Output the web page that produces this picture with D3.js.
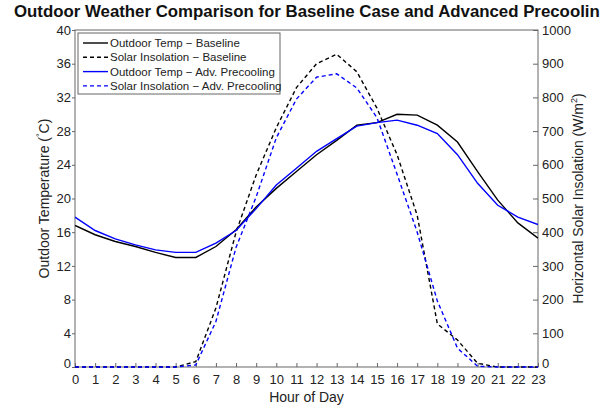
<!DOCTYPE html>
<html><head><meta charset="utf-8">
<script src="https://cdn.jsdelivr.net/npm/d3@7/dist/d3.min.js"></script>
<style>
body{margin:0;background:#fff}
svg{display:block;font-family:"Liberation Sans",Arial,Helvetica,sans-serif}
</style>
</head><body>
<svg id="chart" width="601" height="409"></svg>
<script>
// ---- data ----
const hours = [0,1,2,3,4,5,6,7,8,9,10,11,12,13,14,15,16,17,18,19,20,21,22,23];
const tempBaseline = [16.8,15.7,14.9,14.3,13.6,13.0,13.0,14.3,16.3,19.0,21.2,23.2,25.2,26.9,28.7,29.0,30.0,29.9,28.7,26.7,23.2,19.8,17.1,15.3];
const tempAdvPrecool = [17.8,16.2,15.2,14.5,13.9,13.6,13.6,14.7,16.2,18.8,21.6,23.6,25.6,27.1,28.6,29.0,29.3,28.7,27.7,25.2,21.8,19.2,17.8,16.9];
const solarBaseline = [0,0,0,0,0,0,16,175,400,570,710,829,900,928,876,768,630,450,128,80,11,0,0,0];
const solarAdvPrecool = [0,0,0,0,0,0,6,135,355,505,680,795,860,870,828,740,572,400,196,56,2,0,0,0];
const tempTicks = [0,4,8,12,16,20,24,28,32,36,40];
const solarTicks = [0,100,200,300,400,500,600,700,800,900,1000];
const legendLabels = ["Outdoor Temp \u2212 Baseline","Solar Insolation \u2212 Baseline","Outdoor Temp \u2212 Adv. Precooling","Solar Insolation \u2212 Adv. Precooling"];
const titleText = "Outdoor Weather Comparison for Baseline Case and Advanced Precoolin";

// ---- layout ----
const L = 75, R = 538, T = 30, B = 367;
const svg = d3.select("#chart");
const x = d3.scaleLinear().domain([0,23]).range([L,R]);
const yT = d3.scaleLinear().domain([0,40]).range([B,T]);
const yS = d3.scaleLinear().domain([0,1000]).range([B,T]);
const axisColor = "#666", textColor = "#222";

// frame
svg.append("rect").attr("x",L).attr("y",T).attr("width",R-L).attr("height",B-T)
  .attr("fill","none").attr("stroke",axisColor).attr("stroke-width",1);

function styleAxis(g){
  g.select(".domain").remove();
  g.selectAll(".tick line").attr("stroke",axisColor);
  g.selectAll(".tick text").attr("fill",textColor).attr("font-size","13px")
   .attr("font-family","'Liberation Sans',Arial,sans-serif");
}
// left axis
svg.append("g").attr("transform",`translate(${L},0)`)
  .call(d3.axisLeft(yT).tickValues(tempTicks).tickSize(3).tickPadding(1).tickFormat(d3.format("d")))
  .call(styleAxis)
  .selectAll(".tick text").filter(d=>d===0).attr("dy","0.05em");
// right axis (inward ticks)
svg.append("g").attr("transform",`translate(${R},0)`)
  .call(d3.axisRight(yS).tickValues(solarTicks).tickSize(-5).tickPadding(4).tickFormat(d3.format("d")))
  .call(styleAxis)
  .selectAll(".tick text").filter(d=>d===0).attr("dy","0.02em");
// bottom axis (inward ticks)
svg.append("g").attr("transform",`translate(0,${B})`)
  .call(d3.axisBottom(x).tickValues(hours).tickSize(-4).tickPadding(8).tickFormat(d3.format("d")))
  .call(styleAxis);

// lines
const lineT = d3.line().x((d,i)=>x(hours[i])).y(d=>yT(d));
const lineS = d3.line().x((d,i)=>x(hours[i])).y(d=>yS(d));
svg.append("clipPath").attr("id","pc").append("rect")
  .attr("x",L).attr("y",T-2).attr("width",R-L).attr("height",B-T+4);
const plot = svg.append("g").attr("clip-path","url(#pc)");
const series = [
  {data:tempBaseline, line:lineT, color:"#000000", dash:null},
  {data:solarBaseline, line:lineS, color:"#000000", dash:"4,3"},
  {data:tempAdvPrecool, line:lineT, color:"#0000ff", dash:null},
  {data:solarAdvPrecool, line:lineS, color:"#0000ff", dash:"4,3"}
];
series.forEach(s=>{
  plot.append("path").attr("d",s.line(s.data)).attr("fill","none")
    .attr("stroke",s.color).attr("stroke-width",1.4)
    .attr("stroke-dasharray",s.dash);
});

// legend
const lg = svg.append("g");
lg.append("rect").attr("x",78).attr("y",33).attr("width",202).attr("height",61)
  .attr("fill","#fff").attr("stroke",axisColor).attr("stroke-width",1);
series.forEach((s,i)=>{
  const yy = 43 + i*14.3;
  lg.append("line").attr("x1",83).attr("x2",108).attr("y1",yy).attr("y2",yy)
    .attr("stroke",s.color).attr("stroke-width",1.4).attr("stroke-dasharray",s.dash);
  lg.append("text").attr("x",110).attr("y",yy+4).attr("font-size","11.5px")
    .attr("fill",textColor).text(legendLabels[i]);
});

// title
const title = svg.append("text").attr("x",14).attr("y",17).attr("font-weight","bold")
  .attr("font-size","16px").attr("fill","#111").text(titleText);
const w = title.node().getComputedTextLength();
title.attr("font-size",(16*586/w).toFixed(2)+"px");

// axis labels
svg.append("text").attr("x",(L+R)/2).attr("y",402).attr("text-anchor","middle")
  .attr("font-size","14px").attr("fill",textColor).text("Hour of Day");

const yl = svg.append("text").attr("transform",`translate(49,${(T+B)/2}) rotate(-90)`)
  .attr("text-anchor","middle").attr("font-size","14px").attr("fill",textColor);
yl.append("tspan").text("Outdoor Temperature (");
yl.append("tspan").attr("dy",-6).attr("font-size","9px").text("\u00B0");
yl.append("tspan").attr("dy",6).text("C)");

const yr = svg.append("text").attr("transform",`translate(583,${(T+B)/2}) rotate(-90)`)
  .attr("text-anchor","middle").attr("font-size","14px").attr("fill",textColor);
yr.append("tspan").text("Horizontal Solar Insolation (W/m");
yr.append("tspan").attr("dy",-6).attr("font-size","9px").text("2");
yr.append("tspan").attr("dy",6).text(")");
</script>
</body></html>
